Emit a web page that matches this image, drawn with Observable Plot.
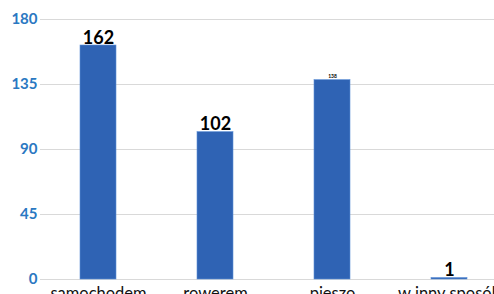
<!DOCTYPE html>
<html>
<head>
<meta charset="utf-8">
<script src="https://cdn.jsdelivr.net/npm/d3@7"></script>
<script src="https://cdn.jsdelivr.net/npm/@observablehq/plot@0.6"></script>
<style>
  html, body { margin: 0; padding: 0; background: #fff; overflow: hidden; }
  #chart svg { display: block; }
</style>
</head>
<body>
<div id="chart"></div>
<script>
const categories = ["samochodem", "rowerem", "pieszo", "w inny sposób"];
const values = [162, 102, 138, 1];
const labelSizes = [18, 18, 5, 18];
const yTicks = [0, 45, 90, 135, 180];

const data = categories.map((c, i) => ({category: c, value: values[i], size: labelSizes[i]}));

const chart = Plot.plot({
  width: 494,
  height: 294,
  marginLeft: 40,
  marginRight: 0,
  marginTop: 19,
  marginBottom: 15,
  style: {fontFamily: "Lato, sans-serif", background: "#fff"},
  x: {domain: categories, range: [39.5, 507.5], paddingInner: 0.69, paddingOuter: 0.345, axis: null},
  y: {domain: [0, 180], ticks: yTicks, axis: null},
  marks: [
    Plot.gridY(yTicks, {stroke: "#d9d9d9", strokeOpacity: 1, strokeWidth: 1}),
    Plot.axisY(yTicks, {tickSize: 0, tickPadding: 3, label: null, fill: "#2a78c2", fontSize: 15, fontWeight: "bold", tickFormat: d => String(d)}),
    Plot.barY(data, {x: "category", y: "value", fill: "#2f63b4", stroke: "#5c8fd6", strokeWidth: 0.6}),
    Plot.text(data, {x: "category", y: "value", text: d => String(d.value), fontSize: d => d.size, fontWeight: "bold", fill: "#000", lineAnchor: "bottom", dy: -2}),
    Plot.text(data, {x: "category", y: () => 0, text: "category", fontSize: 16.5, fill: "#111", lineAnchor: "bottom", dy: 19.5})
  ]
});
document.getElementById("chart").appendChild(chart);
</script>
</body>
</html>
